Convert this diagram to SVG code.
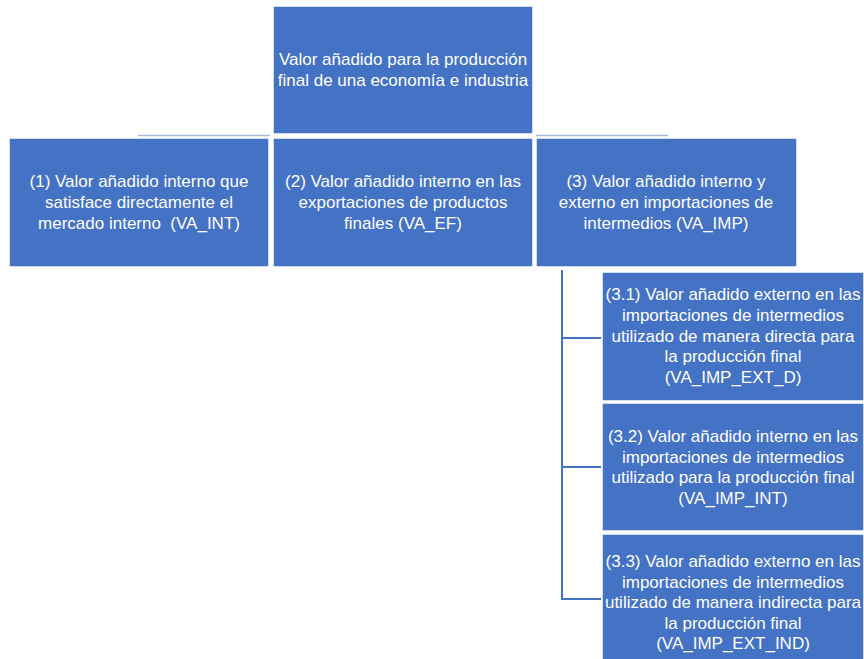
<svg xmlns="http://www.w3.org/2000/svg" width="864" height="659" viewBox="0 0 864 659">
<style>
.box{fill:#4472C4;stroke:#FFFFFF;stroke-width:1.5}
.t{font-family:"Liberation Sans","Noto Sans",Arial,sans-serif;font-size:17px;fill:#FFFFFF;text-anchor:middle;white-space:pre}
.lt{stroke:#A9B9DD;stroke-width:1.5;fill:none}
.br{stroke:#4472C4;stroke-width:2;fill:none}
</style>
<rect width="864" height="659" fill="#FFFFFF"/>
<g id="connectors">
<line class="lt" x1="138" y1="135.5" x2="270" y2="135.5"/>
<line class="lt" x1="536" y1="135.5" x2="668" y2="135.5"/>
<polyline class="br" points="562,270 562,599 601,599"/>
<line class="br" x1="562" y1="338" x2="601" y2="338"/>
<line class="br" x1="562" y1="467" x2="601" y2="467"/>
</g>
<g id="root">
<rect class="box" x="273" y="6" width="260" height="128"/>
<text class="t" x="403" y="65">Valor añadido para la producción</text>
<text class="t" x="403" y="86">final de una economía e industria</text>
</g>
<g id="n1">
<rect class="box" x="9" y="138" width="260" height="129"/>
<text class="t" x="139" y="187">(1) Valor añadido interno que</text>
<text class="t" x="139" y="208">satisface directamente el</text>
<text class="t" x="139" y="229" xml:space="preserve">mercado interno  (VA_INT)</text>
</g>
<g id="n2">
<rect class="box" x="273" y="138" width="260" height="129"/>
<text class="t" x="403" y="187">(2) Valor añadido interno en las</text>
<text class="t" x="403" y="208">exportaciones de productos</text>
<text class="t" x="403" y="229">finales (VA_EF)</text>
</g>
<g id="n3">
<rect class="box" x="536" y="138" width="261" height="129"/>
<text class="t" x="666" y="187">(3) Valor añadido interno y</text>
<text class="t" x="666" y="208">externo en importaciones de</text>
<text class="t" x="666" y="229">intermedios (VA_IMP)</text>
</g>
<g id="n31">
<rect class="box" x="602" y="272" width="262" height="129"/>
<text class="t" x="733" y="300">(3.1) Valor añadido externo en las</text>
<text class="t" x="733" y="321">importaciones de intermedios</text>
<text class="t" x="733" y="342">utilizado de manera directa para</text>
<text class="t" x="733" y="362">la producción final</text>
<text class="t" x="733" y="383">(VA_IMP_EXT_D)</text>
</g>
<g id="n32">
<rect class="box" x="602" y="403" width="262" height="128"/>
<text class="t" x="733" y="442">(3.2) Valor añadido interno en las</text>
<text class="t" x="733" y="463">importaciones de intermedios</text>
<text class="t" x="733" y="483">utilizado para la producción final</text>
<text class="t" x="733" y="504">(VA_IMP_INT)</text>
</g>
<g id="n33">
<rect class="box" x="602" y="534" width="262" height="130"/>
<text class="t" x="733" y="567">(3.3) Valor añadido externo en las</text>
<text class="t" x="733" y="588">importaciones de intermedios</text>
<text class="t" x="733" y="608">utilizado de manera indirecta para</text>
<text class="t" x="733" y="629">la producción final</text>
<text class="t" x="733" y="649">(VA_IMP_EXT_IND)</text>
</g>
</svg>
